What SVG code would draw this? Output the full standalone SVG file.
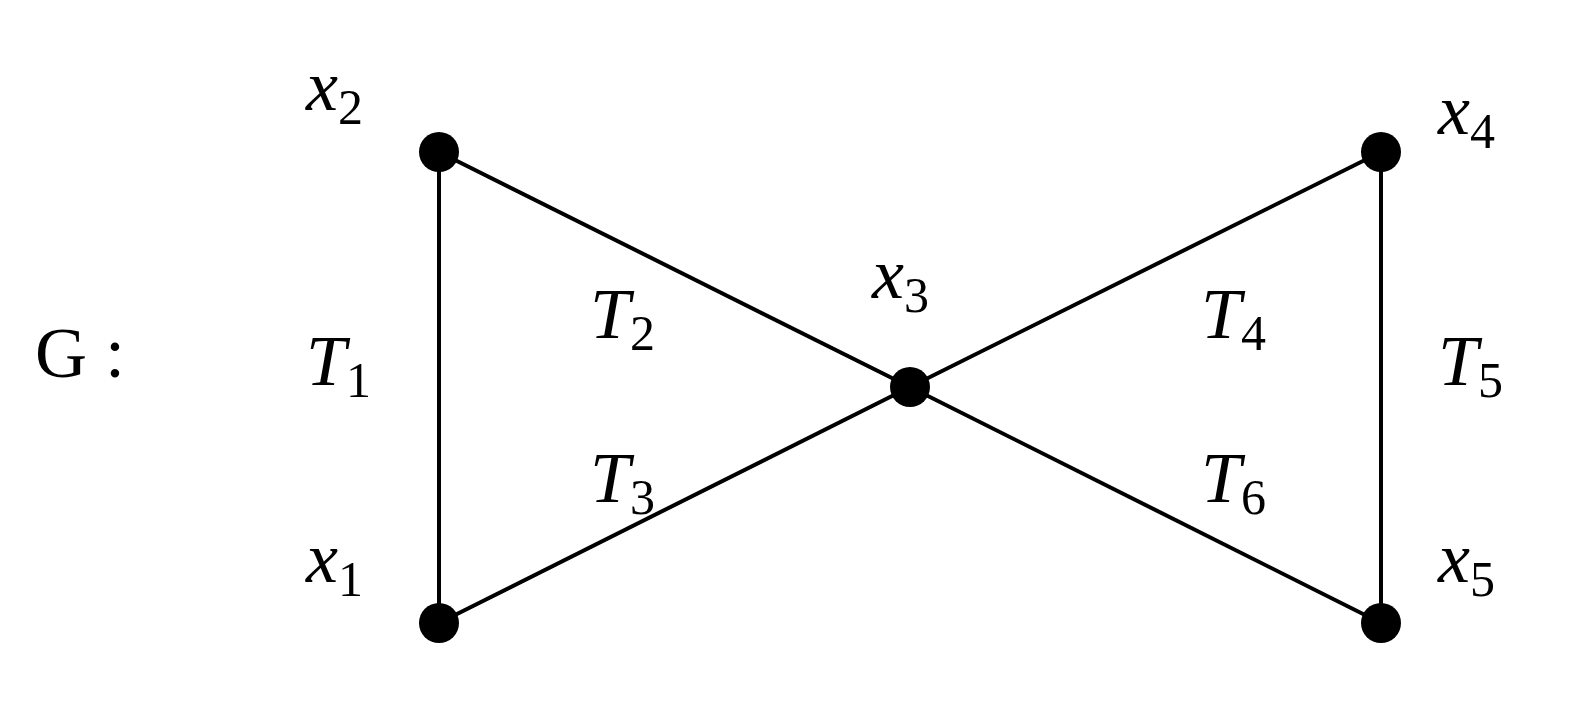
<svg xmlns="http://www.w3.org/2000/svg" width="1573" height="706" viewBox="0 0 1573 706">
<style>
.l{font-family:"Liberation Serif",serif;font-style:italic;font-size:72px;fill:#000}
.s{font-style:normal;font-size:50px}
.e{stroke:#000;stroke-width:4;fill:none}
</style>
<rect width="1573" height="706" fill="#fff"/>
<g id="connectors">
<line class="e" x1="439" y1="152" x2="439" y2="623"/>
<line class="e" x1="439" y1="152" x2="910" y2="387"/>
<line class="e" x1="439" y1="623" x2="910" y2="387"/>
<line class="e" x1="1381" y1="152" x2="910" y2="387"/>
<line class="e" x1="1381" y1="623" x2="910" y2="387"/>
<line class="e" x1="1381" y1="152" x2="1381" y2="623"/>
</g>
<g id="x1"><circle cx="439" cy="623" r="20"/><text class="l" x="306" y="582">x<tspan class="s" dy="14">1</tspan></text></g>
<g id="x2"><circle cx="439" cy="152" r="20"/><text class="l" x="306" y="110">x<tspan class="s" dy="14">2</tspan></text></g>
<g id="x3"><circle cx="910" cy="387" r="20"/><text class="l" x="872" y="298">x<tspan class="s" dy="14">3</tspan></text></g>
<g id="x4"><circle cx="1381" cy="152" r="20"/><text class="l" x="1438" y="134">x<tspan class="s" dy="14">4</tspan></text></g>
<g id="x5"><circle cx="1381" cy="623" r="20"/><text class="l" x="1438" y="582">x<tspan class="s" dy="14">5</tspan></text></g>
<g id="labels">
<text x="35" y="377" style="font-family:'Liberation Serif',serif;font-size:72px">G :</text>
<text class="l" x="306" y="385">T<tspan class="s" dy="12">1</tspan></text>
<text class="l" x="590" y="338">T<tspan class="s" dy="12">2</tspan></text>
<text class="l" x="590" y="502">T<tspan class="s" dy="12">3</tspan></text>
<text class="l" x="1201" y="338">T<tspan class="s" dy="12">4</tspan></text>
<text class="l" x="1438" y="385">T<tspan class="s" dy="12">5</tspan></text>
<text class="l" x="1201" y="502">T<tspan class="s" dy="12">6</tspan></text>
</g>
</svg>
